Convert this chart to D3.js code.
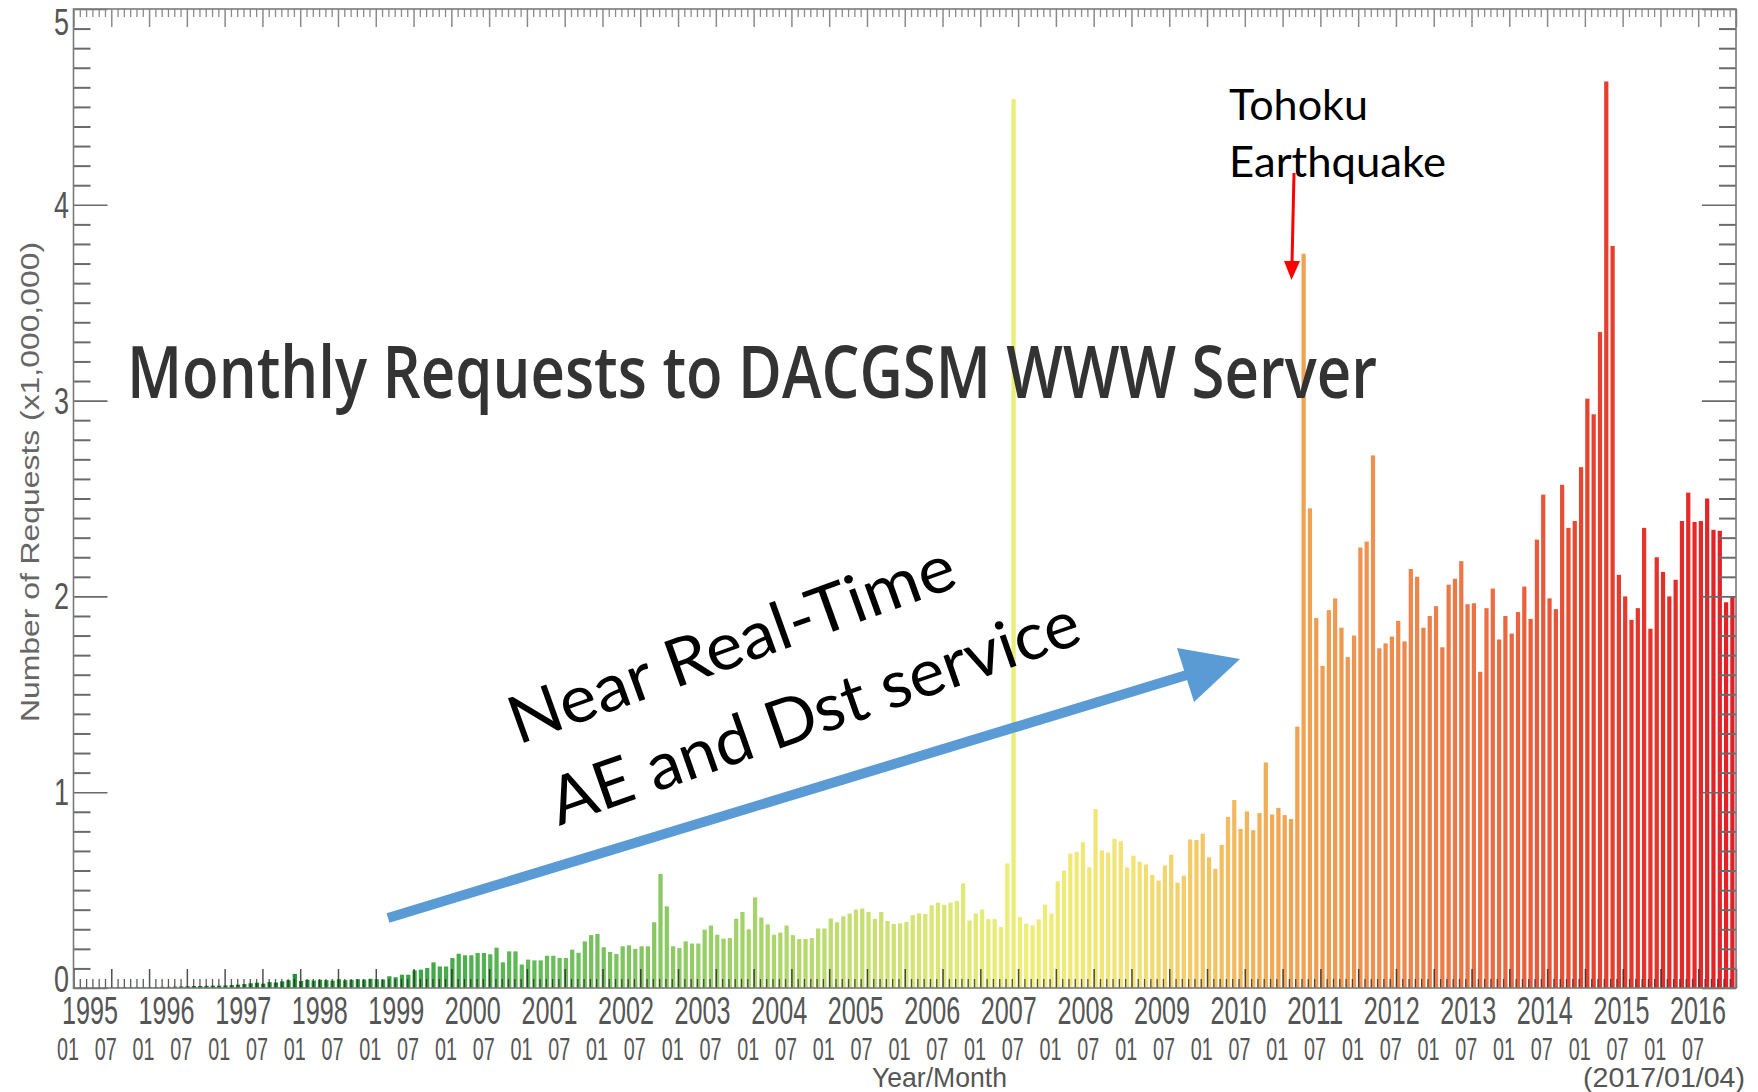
<!DOCTYPE html>
<html>
<head>
<meta charset="utf-8">
<script src="https://cdn.jsdelivr.net/npm/d3@7"></script>
<style>
  body { margin: 0; background: #ffffff; }
  svg { display: block; }
</style>
</head>
<body>
<svg id="chart" width="1758" height="1092"></svg>
<script>
// ---------------- DATA (monthly requests, x1,000,000) ----------------
const v1995 = [0.002,0.002,0.002,0.003,0.003,0.003,0.003,0.004,0.004,0.004,0.005,0.005];
const v1996 = [0.005,0.005,0.006,0.006,0.007,0.008,0.009,0.010,0.010,0.011,0.012,0.012];
const v1997 = [0.013,0.015,0.017,0.020,0.024,0.027,0.022,0.030,0.028,0.034,0.040,0.072];
const v1998 = [0.036,0.042,0.038,0.042,0.040,0.038,0.045,0.040,0.042,0.045,0.043,0.047];
const v1999 = [0.045,0.043,0.060,0.055,0.068,0.068,0.090,0.094,0.102,0.131,0.110,0.110];
const v2000 = [0.153,0.175,0.167,0.167,0.179,0.179,0.172,0.206,0.131,0.187,0.187,0.120];
const v2001 = [0.145,0.141,0.141,0.165,0.165,0.153,0.153,0.196,0.180,0.238,0.270,0.276];
const v2002 = [0.208,0.184,0.174,0.213,0.218,0.200,0.213,0.213,0.336,0.583,0.417,0.213];
const v2003 = [0.204,0.238,0.227,0.227,0.298,0.319,0.272,0.252,0.255,0.354,0.388,0.300];
const v2004 = [0.463,0.360,0.325,0.272,0.283,0.319,0.270,0.250,0.250,0.255,0.304,0.304];
const v2005 = [0.355,0.336,0.366,0.380,0.400,0.406,0.388,0.353,0.388,0.342,0.327,0.330];
const v2006 = [0.338,0.372,0.381,0.378,0.422,0.436,0.425,0.436,0.445,0.535,0.345,0.381];
const v2007 = [0.400,0.352,0.352,0.311,0.636,4.540,0.362,0.329,0.320,0.350,0.426,0.381];
const v2008 = [0.545,0.600,0.686,0.695,0.745,0.617,0.914,0.703,0.692,0.762,0.750,0.616];
const v2009 = [0.676,0.645,0.631,0.577,0.549,0.626,0.680,0.538,0.574,0.759,0.756,0.788];
const v2010 = [0.668,0.609,0.731,0.874,0.960,0.812,0.902,0.806,0.893,1.152,0.886,0.920];
const v2011 = [0.883,0.863,1.335,3.750,2.450,1.890,1.645,1.930,1.990,1.840,1.690,1.800];
const v2012 = [2.250,2.280,2.720,1.735,1.760,1.795,1.875,1.770,2.140,2.100,1.840,1.900];
const v2013 = [1.950,1.740,2.060,2.090,2.180,1.960,1.965,1.615,1.940,2.040,1.780,1.900];
const v2014 = [1.810,1.920,2.050,1.885,2.290,2.520,1.990,1.935,2.570,2.350,2.385,2.660];
const v2015 = [3.010,2.930,3.350,4.630,3.790,2.110,2.000,1.880,1.940,2.350,1.835,2.200];
const v2016 = [2.125,2.000,2.085,2.385,2.530,2.380,2.385,2.500,2.340,2.335,1.970,2.000];

const yearLabels  = d3.range(1995, 2017).map(String);
const monthLabels = ["01","07"];
const yTickValues = [0,1,2,3,4,5];
const colorYears  = [1995.0,1997.5,1999.5,2001.0,2003.0,2005.0,2006.5,2007.5,2009.0,2010.0,2011.0,2012.5,2014.0,2015.0,2016.9];
const colorStops  = ["#0f6a1f","#1f8a30","#3ca545","#62ba58","#8fcb64","#bedc70","#dbe774","#eeee74","#f3e275","#f3c462","#f0a653","#ee8a4c","#ea6640","#e6432f","#e41f25"];

const values = [].concat(v1995,v1996,v1997,v1998,v1999,v2000,v2001,v2002,v2003,v2004,v2005,
                         v2006,v2007,v2008,v2009,v2010,v2011,v2012,v2013,v2014,v2015,v2016);
const n = values.length;

// ---------------- LAYOUT ----------------
const plot = { left: 73.5, right: 1736, top: 9, bottom: 988 };
const svg = d3.select("#chart");
const labelFont = "'Liberation Sans', Arial, sans-serif";
const titleFont = "'Open Sans', 'DejaVu Sans', sans-serif";
const noteFont  = "Lato, 'Open Sans', sans-serif";

const x  = d3.scaleBand().domain(d3.range(n)).range([plot.left - 1.5, plot.right - 1.5])
             .paddingInner(0.33).paddingOuter(0).align(0);
const xm = d3.scaleLinear().domain([0, n]).range([plot.left, plot.right]);
const y  = d3.scaleLinear().domain([0, 5]).range([plot.bottom, plot.top]);
const color = d3.scaleLinear().domain(colorYears).range(colorStops).interpolate(d3.interpolateRgb);

// ---------------- BARS ----------------
svg.append("g").selectAll("rect").data(values).join("rect")
  .attr("x", (d, i) => Math.max(plot.left, x(i)))
  .attr("width", x.bandwidth())
  .attr("y", d => y(d))
  .attr("height", d => y(0) - y(d))
  .attr("fill", (d, i) => color(1995 + i / 12));

// ---------------- AXES / TICKS ----------------
function styleAxis(g, stroke, width) {
  g.select(".domain").remove();
  g.selectAll("line").attr("stroke", stroke).attr("stroke-width", width);
}
const minorY = d3.range(0, 51).map(k => k / 10).filter(v => Math.round(v * 10) % 10 !== 0);

svg.append("g").attr("transform", `translate(${plot.left},0)`)
  .call(d3.axisRight(y).tickValues(minorY).tickSize(17).tickFormat(""))
  .call(g => styleAxis(g, "#6a6a6a", 2));
svg.append("g").attr("transform", `translate(${plot.left},0)`)
  .call(d3.axisRight(y).tickValues(yTickValues).tickSize(34).tickFormat(""))
  .call(g => styleAxis(g, "#6a6a6a", 1.6));
svg.append("g").attr("transform", `translate(${plot.right},0)`)
  .call(d3.axisLeft(y).tickValues(minorY).tickSize(17).tickFormat(""))
  .call(g => styleAxis(g, "#6a6a6a", 2));
svg.append("g").attr("transform", `translate(${plot.right},0)`)
  .call(d3.axisLeft(y).tickValues(yTickValues).tickSize(34).tickFormat(""))
  .call(g => styleAxis(g, "#6a6a6a", 1.6));

const monthTicks = d3.range(0, n + 1);
svg.append("g").attr("transform", `translate(0,${plot.top})`)
  .call(d3.axisBottom(xm).tickValues(monthTicks.filter(i => i % 6)).tickSize(8).tickFormat(""))
  .call(g => styleAxis(g, "#8a8a8a", 1.3));
svg.append("g").attr("transform", `translate(0,${plot.top})`)
  .call(d3.axisBottom(xm).tickValues(monthTicks.filter(i => i % 6 === 0)).tickSize(18).tickFormat(""))
  .call(g => styleAxis(g, "#8a8a8a", 1.5));
svg.append("g").attr("transform", `translate(0,${plot.bottom})`)
  .call(d3.axisTop(xm).tickValues(monthTicks.filter(i => i % 6)).tickSize(9).tickFormat(""))
  .call(g => styleAxis(g, "rgba(35,35,35,0.75)", 1.3));
svg.append("g").attr("transform", `translate(0,${plot.bottom})`)
  .call(d3.axisTop(xm).tickValues(monthTicks.filter(i => i % 6 === 0)).tickSize(19).tickFormat(""))
  .call(g => styleAxis(g, "rgba(35,35,35,0.8)", 1.5));

svg.append("rect")
  .attr("x", plot.left).attr("y", plot.top)
  .attr("width", plot.right - plot.left).attr("height", plot.bottom - plot.top)
  .attr("fill", "none").attr("stroke", "#7a7a7a").attr("stroke-width", 1.6);

// ---------------- AXIS LABELS ----------------
svg.append("g").selectAll("text").data(yTickValues).join("text")
  .attr("x", 69)
  .attr("y", d => y(d) + (d === 0 ? 4 : d === 5 ? 26 : 13))
  .attr("text-anchor", "end")
  .attr("font-family", labelFont).attr("font-size", 36).attr("fill", "#555")
  .attr("textLength", 15).attr("lengthAdjust", "spacingAndGlyphs")
  .text(d => d);

const yearX = d3.scaleLinear().domain([1995, 2016]).range([90, 1698]);
svg.append("g").selectAll("text").data(yearLabels).join("text")
  .attr("x", d => yearX(+d) - 28).attr("y", 1024)
  .attr("font-family", labelFont).attr("font-size", 39).attr("fill", "#555")
  .attr("textLength", 56).attr("lengthAdjust", "spacingAndGlyphs")
  .text(d => d);

const halfYears = d3.range(0, 44);
const monthX = d3.scaleLinear().domain([0, 43]).range([68, 1693]);
svg.append("g").selectAll("text").data(halfYears).join("text")
  .attr("x", d => monthX(d) - 11).attr("y", 1060)
  .attr("font-family", labelFont).attr("font-size", 31).attr("fill", "#555")
  .attr("textLength", 22).attr("lengthAdjust", "spacingAndGlyphs")
  .text(d => monthLabels[d % 2]);

svg.append("text").attr("x", 872).attr("y", 1087)
  .attr("font-family", labelFont).attr("font-size", 28).attr("fill", "#555")
  .attr("textLength", 135).attr("lengthAdjust", "spacingAndGlyphs")
  .text("Year/Month");
svg.append("text").attr("x", 1583).attr("y", 1087)
  .attr("font-family", labelFont).attr("font-size", 28).attr("fill", "#555")
  .attr("textLength", 162).attr("lengthAdjust", "spacingAndGlyphs")
  .text("(2017/01/04)");

svg.append("text")
  .attr("transform", "translate(39,482) rotate(-90)")
  .attr("text-anchor", "middle")
  .attr("font-family", labelFont).attr("font-size", 25).attr("fill", "#666")
  .attr("textLength", 480).attr("lengthAdjust", "spacingAndGlyphs")
  .text("Number of Requests (x1,000,000)");

// ---------------- ANNOTATIONS ----------------
svg.append("text").attr("x", 127).attr("y", 398)
  .attr("font-family", titleFont).attr("font-size", 72).attr("font-weight", 600).attr("fill", "#333")
  .attr("textLength", 1250).attr("lengthAdjust", "spacingAndGlyphs")
  .text("Monthly Requests to DACGSM WWW Server");

svg.append("line").attr("x1", 388).attr("y1", 918).attr("x2", 1190).attr("y2", 674)
  .attr("stroke", "#5b9bd5").attr("stroke-width", 10);
svg.append("polygon").attr("points", "1240,659 1177,648 1194,702").attr("fill", "#5b9bd5");

svg.append("text").attr("transform", "translate(518,745) rotate(-19.8)")
  .attr("font-family", noteFont).attr("font-size", 66).attr("fill", "#000")
  .attr("textLength", 470).attr("lengthAdjust", "spacingAndGlyphs")
  .text("Near Real-Time");
svg.append("text").attr("transform", "translate(559,826) rotate(-19.3)")
  .attr("font-family", noteFont).attr("font-size", 66).attr("fill", "#000")
  .attr("textLength", 557).attr("lengthAdjust", "spacingAndGlyphs")
  .text("AE and Dst service");

svg.append("text").attr("x", 1229).attr("y", 120)
  .attr("font-family", noteFont).attr("font-size", 43).attr("fill", "#000")
  .attr("textLength", 139).attr("lengthAdjust", "spacingAndGlyphs")
  .text("Tohoku");
svg.append("text").attr("x", 1229).attr("y", 177)
  .attr("font-family", noteFont).attr("font-size", 43).attr("fill", "#000")
  .attr("textLength", 217).attr("lengthAdjust", "spacingAndGlyphs")
  .text("Earthquake");
svg.append("line").attr("x1", 1294).attr("y1", 173).attr("x2", 1292).attr("y2", 264)
  .attr("stroke", "#ff0000").attr("stroke-width", 3);
svg.append("polygon").attr("points", "1284,261 1300,261 1291.5,280").attr("fill", "#ff0000");
</script>
</body>
</html>
